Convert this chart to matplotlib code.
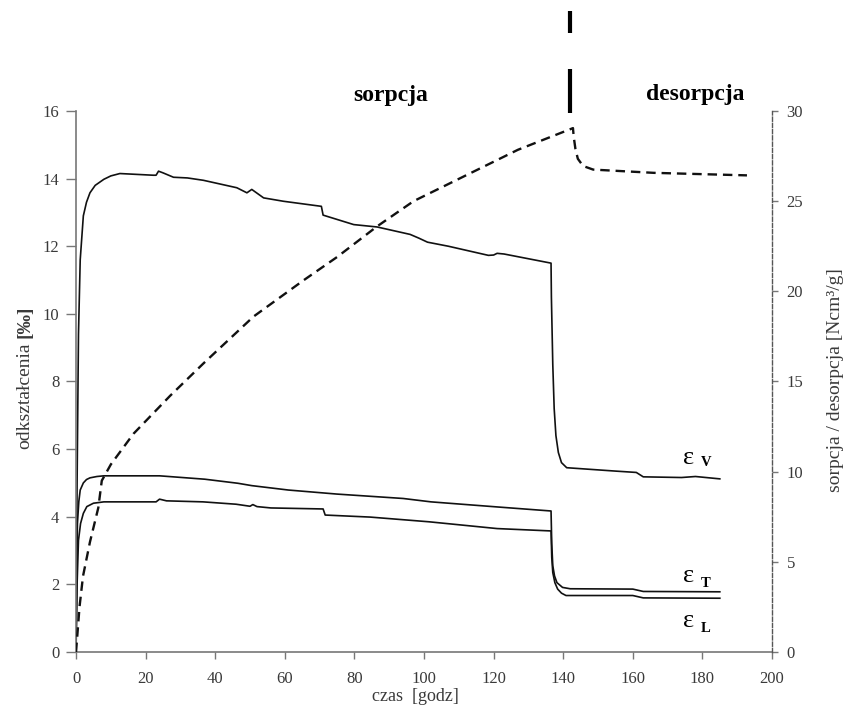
import matplotlib
matplotlib.use("Agg")
import matplotlib.pyplot as plt

plt.rcParams["font.family"] = ["Liberation Serif", "DejaVu Serif"]

# czas [godz] i odkształcenia [‰]
t_v = [0, 0.3, 0.7, 1.2, 2.1, 3.0, 4.0, 5.5, 8.0, 10.0, 12.6, 22.2, 23.0, 23.7, 25.0,
       28.0, 32.0, 36.6, 46.2, 49.1, 50.5, 53.9, 59.6, 70.5, 71.0, 79.8, 86.5, 96.0, 98.5,
       101.0, 107.0, 118.5, 120.0, 121.0, 123.0, 136.5, 136.6, 137.0, 137.4, 137.9,
       138.6, 139.5, 141.0, 155.0, 161.0, 163.0, 174.0, 178.0, 185.0]
eps_v = [0, 5.0, 9.4, 11.6, 12.9, 13.3, 13.58, 13.8, 13.98, 14.08, 14.15, 14.1, 14.1,
         14.22, 14.17, 14.04, 14.02, 13.95, 13.73, 13.58, 13.68, 13.43, 13.33, 13.18,
         12.92, 12.64, 12.57, 12.35, 12.24, 12.12, 12.0, 11.73, 11.74, 11.79, 11.77, 11.5,
         10.5, 8.5, 7.2, 6.4, 5.9, 5.6, 5.45, 5.35, 5.31, 5.18, 5.16, 5.19, 5.12]

t_t = [0, 0.2, 0.4, 0.8, 1.2, 2.1, 3.0, 4.0, 6.0, 8.0, 24.0, 37.0, 46.5, 50.5, 61.0, 75.0,
       94.0, 102.0, 121.0, 136.5, 136.7, 137.0, 137.5, 138.2, 139.8, 142.0, 160.0, 163.0,
       185.0]
eps_t = [0, 2.5, 3.8, 4.45, 4.79, 5.0, 5.1, 5.15, 5.19, 5.21, 5.21, 5.11, 4.99, 4.92,
         4.79, 4.67, 4.54, 4.44, 4.29, 4.17, 3.2, 2.55, 2.25, 2.05, 1.91, 1.87, 1.86,
         1.79, 1.78]

t_l = [0, 0.3, 0.7, 1.3, 2.1, 3.1, 5.0, 8.0, 23.0, 24.0, 26.0, 36.5, 46.0, 50.0, 50.8,
       52.0, 56.0, 71.0, 71.6, 84.5, 101.5, 121.0, 136.5, 136.7, 137.0, 137.6, 138.4,
       139.5, 140.8, 160.0, 163.0, 185.0]
eps_l = [0, 2.0, 3.3, 3.8, 4.1, 4.3, 4.4, 4.44, 4.44, 4.52, 4.47, 4.44, 4.37, 4.31, 4.36,
         4.3, 4.26, 4.23, 4.05, 3.99, 3.85, 3.65, 3.58, 2.8, 2.35, 2.05, 1.86, 1.74, 1.67,
         1.67, 1.6, 1.59]

# sorpcja / desorpcja [Ncm3/g]
t_s = [0, 1.0, 2.0, 4.0, 6.4, 7.4, 10.0, 16.5, 27.0, 36.6, 51.0, 65.3, 75.0, 86.5, 97.0,
       117.0, 127.0, 142.8, 143.0, 143.5, 144.2, 145.7, 148.6, 166.0, 192.8]
sorp = [0, 2.5, 4.2, 6.1, 8.0, 9.5, 10.4, 12.1, 14.2, 16.0, 18.6, 20.6, 21.9, 23.6, 25.0,
        26.9, 27.85, 29.05, 28.6, 27.9, 27.35, 26.95, 26.75, 26.57, 26.43]

x_ticks = list(range(0, 201, 20))
left_ticks = list(range(0, 17, 2))
right_ticks = list(range(0, 31, 5))
desorption_start = 142  # godz

axis_grey = "#777777"
text_grey = "#3a3a3a"

fig = plt.figure(figsize=(8.43, 7.06), dpi=100)
ax = fig.add_axes([0.0902, 0.0765, 0.8256, 0.7663])
ax2 = ax.twinx()

ax.plot(t_v, eps_v, color="#111111", lw=1.2)
ax.plot(t_t, eps_t, color="#111111", lw=1.2)
ax.plot(t_l, eps_l, color="#111111", lw=1.2)
ax2.plot(t_s, sorp, color="#111111", lw=1.7, linestyle=(0, (4, 2.5)))

ax.set_xlim(0, 200)
ax.set_ylim(0, 16)
ax2.set_ylim(0, 30)
ax.set_xticks(x_ticks)
ax.set_yticks(left_ticks)
ax2.set_yticks(right_ticks)

for s in ["top", "right"]:
    ax.spines[s].set_visible(False)
for s in ["top", "left", "bottom"]:
    ax2.spines[s].set_visible(False)
for s in ["left", "bottom"]:
    ax.spines[s].set_color(axis_grey)
    ax.spines[s].set_linewidth(1.2)
ax2.spines["right"].set_color("#555555")
ax2.spines["right"].set_linewidth(1.0)
ax2.spines["right"].set_linestyle((0, (3, 1.5)))

ax.tick_params(axis="y", direction="out", length=7, width=1, color=axis_grey,
               labelcolor=text_grey, labelsize=12, pad=5)
ax.tick_params(axis="x", direction="out", length=5, width=1, color=axis_grey,
               labelcolor=text_grey, labelsize=12, pad=9)
ax2.tick_params(axis="y", direction="out", length=4.5, width=1, color=axis_grey,
                labelcolor=text_grey, labelsize=12, pad=6)

ax.set_xlabel("czas  [godz]", fontsize=13, color=text_grey)
ax.xaxis.set_label_coords(0.487, -0.067)

# opis osi lewej: zwykły tekst + pogrubiona jednostka
lab = fig.text(0.0297, 0.364, "odkształcenia", rotation=90, ha="center", va="bottom",
               fontsize=14, color=text_grey)
fig.canvas.draw()
bb = lab.get_window_extent()
fig.text(0.0297, (bb.y1 + 5) / fig.bbox.height, "[‰]", rotation=90, ha="center",
         va="bottom", fontsize=14, fontweight="bold", color=text_grey)

fig.text(0.9915, 0.462, "sorpcja / desorpcja [Ncm³/g]", rotation=90, ha="center",
         va="center", fontsize=14, color=text_grey)

# nagłówki faz i znacznik początku desorpcji
ax.text(90.4, 16.45, "sorpcja", ha="center", va="center", fontsize=17, fontweight="bold")
ax.text(178, 16.5, "desorpcja", ha="center", va="center", fontsize=17, fontweight="bold")
ax.plot([desorption_start] * 2, [18.3, 18.95], color="black", lw=3, clip_on=False,
        solid_capstyle="butt")
ax.plot([desorption_start] * 2, [15.95, 17.25], color="black", lw=3, clip_on=False,
        solid_capstyle="butt")

# etykiety krzywych
for name, y_eps, y_sub in [("V", 5.73, 5.6), ("T", 2.25, 2.04), ("L", 0.93, 0.69)]:
    ax.text(176, y_eps, "ε", ha="center", va="center", fontsize=19)
    ax.text(181, y_sub, name, ha="center", va="center", fontsize=10.5, fontweight="bold")

fig.savefig("out.png", dpi=100)
